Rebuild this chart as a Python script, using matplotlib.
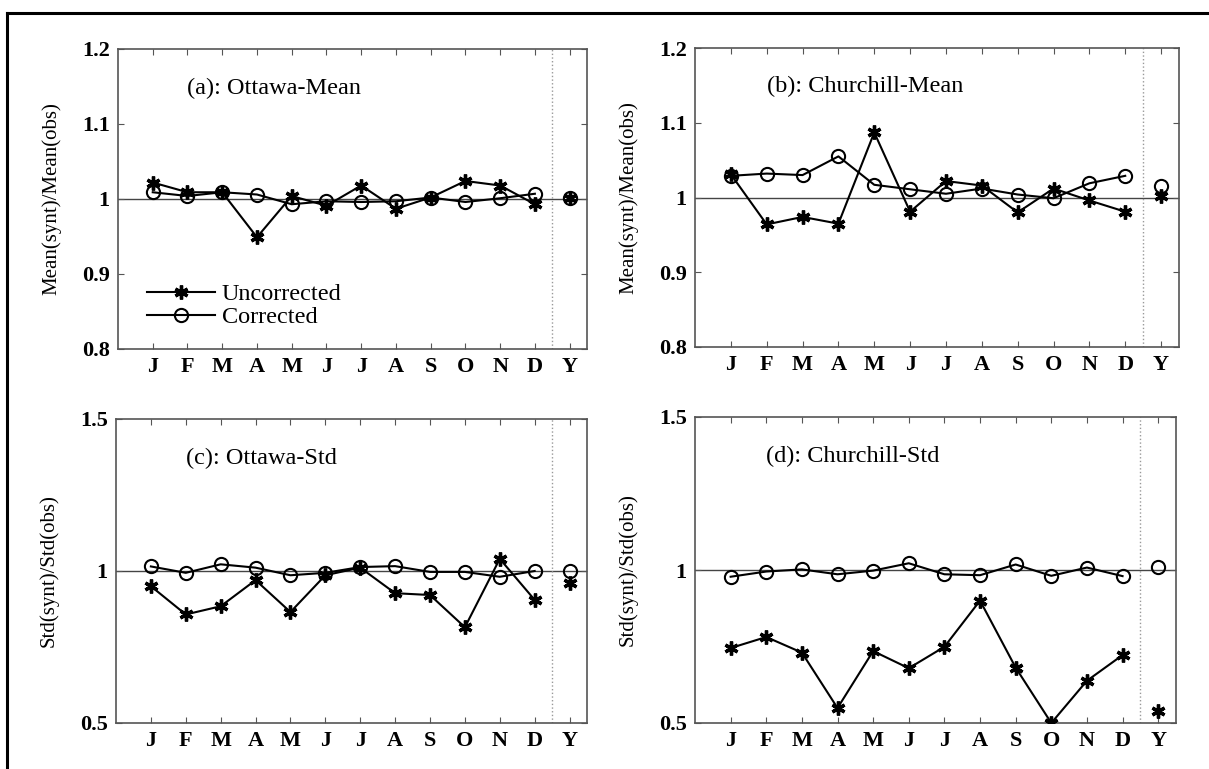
import matplotlib
matplotlib.use("Agg")
import matplotlib.pyplot as plt
from matplotlib.lines import Line2D
import numpy as np

plt.rcParams['font.family'] = ['Liberation Serif', 'DejaVu Serif']

months = ['J', 'F', 'M', 'A', 'M', 'J', 'J', 'A', 'S', 'O', 'N', 'D', 'Y']
x = np.arange(1, 14)

# ratios synthetic / observed, 12 months + yearly value (Y)
ott_mean_unc = [1.022, 1.009, 1.009, 0.949, 1.004, 0.991, 1.018, 0.987, 1.002, 1.024, 1.018, 0.993, 1.002]
ott_mean_cor = [1.009, 1.004, 1.009, 1.006, 0.993, 0.997, 0.996, 0.997, 1.002, 0.996, 1.001, 1.007, 1.002]
chu_mean_unc = [1.031, 0.964, 0.974, 0.965, 1.087, 0.981, 1.022, 1.016, 0.980, 1.012, 0.996, 0.981, 1.002]
chu_mean_cor = [1.029, 1.032, 1.030, 1.055, 1.017, 1.011, 1.005, 1.012, 1.004, 0.999, 1.019, 1.029, 1.016]
ott_std_unc = [0.950, 0.857, 0.884, 0.970, 0.865, 0.986, 1.011, 0.927, 0.921, 0.815, 1.040, 0.905, 0.961]
ott_std_cor = [1.015, 0.994, 1.022, 1.011, 0.986, 0.994, 1.013, 1.016, 0.997, 0.997, 0.981, 1.000, 1.000]
chu_std_unc = [0.745, 0.781, 0.730, 0.549, 0.735, 0.679, 0.749, 0.900, 0.681, 0.500, 0.638, 0.722, 0.538]
chu_std_cor = [0.978, 0.995, 1.002, 0.986, 0.998, 1.022, 0.986, 0.983, 1.018, 0.981, 1.008, 0.980, 1.010]

panels = [
    # rect (pixels: left, top, right, bottom), title, unc, cor, ylim, yticks, ytick labels, ylabel
    ((118, 49, 587, 349), '(a): Ottawa-Mean', ott_mean_unc, ott_mean_cor,
     (0.8, 1.2), [0.8, 0.9, 1.0, 1.1, 1.2], ['0.8', '0.9', '1', '1.1', '1.2'], 'Mean(synt)/Mean(obs)'),
    ((695, 48, 1179, 347), '(b): Churchill-Mean', chu_mean_unc, chu_mean_cor,
     (0.8, 1.2), [0.8, 0.9, 1.0, 1.1, 1.2], ['0.8', '0.9', '1', '1.1', '1.2'], 'Mean(synt)/Mean(obs)'),
    ((116, 419, 587, 723), '(c): Ottawa-Std', ott_std_unc, ott_std_cor,
     (0.5, 1.5), [0.5, 1.0, 1.5], ['0.5', '1', '1.5'], 'Std(synt)/Std(obs)'),
    ((695, 417, 1176, 723), '(d): Churchill-Std', chu_std_unc, chu_std_cor,
     (0.5, 1.5), [0.5, 1.0, 1.5], ['0.5', '1', '1.5'], 'Std(synt)/Std(obs)'),
]

W, H = 1209, 769
fig = plt.figure(figsize=(W / 100, H / 100), dpi=100)

# outer frame (top and left edges)
fig.add_artist(Line2D([7 / W, 7 / W], [0, 1 - 13 / H], color='black', lw=2.2, transform=fig.transFigure))
fig.add_artist(Line2D([7 / W, 1], [1 - 13 / H, 1 - 13 / H], color='black', lw=2.2, transform=fig.transFigure))

frame_col = '#555555'
for i, (rect, title, unc, cor, ylim, yt, ytl, ylab) in enumerate(panels):
    l, t, r, b = rect
    ax = fig.add_axes([l / W, 1 - b / H, (r - l) / W, (b - t) / H])
    ax.set_xlim(0, 13.5)
    ax.set_ylim(*ylim)

    ax.axhline(1.0, color='#444444', lw=1.0, zorder=1)
    ax.axvline(12.5, color='#999999', lw=1.0, ls=':', zorder=1)

    ax.plot(x[:12], unc[:12], color='black', lw=1.5, marker=(6, 2, 0), ms=10, mew=2.4, zorder=3,
            label='Uncorrected')
    ax.plot(x[12], unc[12], color='black', marker=(6, 2, 0), ms=10, mew=2.4, zorder=3)
    ax.plot(x[:12], cor[:12], color='black', lw=1.5, marker='o', ms=9.5, mfc='none', mew=1.5, zorder=3,
            label='Corrected')
    ax.plot(x[12], cor[12], color='black', marker='o', ms=9.5, mfc='none', mew=1.5, zorder=3)

    ax.set_xticks(x)
    ax.set_xticklabels(months, fontsize=16, fontweight='bold')
    ax.set_yticks(yt)
    ax.set_yticklabels(ytl, fontsize=16, fontweight='bold')
    ax.tick_params(direction='in', length=4, width=0.8, color=frame_col, top=True, right=True, pad=6)
    for s in ax.spines.values():
        s.set_color(frame_col)
        s.set_linewidth(1.2)

    ax.set_ylabel(ylab, fontsize=15, labelpad=15)
    ax.text(2.0, ylim[0] + (ylim[1] - ylim[0]) * 0.87, title, fontsize=17.5, va='center', ha='left')

    if i == 0:
        ax.legend(loc='lower left', bbox_to_anchor=(0.03, 0.02), frameon=False, fontsize=17.5,
                  handlelength=2.8, handletextpad=0.3, labelspacing=0.05, borderaxespad=0.2)

fig.savefig('out.png', dpi=100, facecolor='white')
